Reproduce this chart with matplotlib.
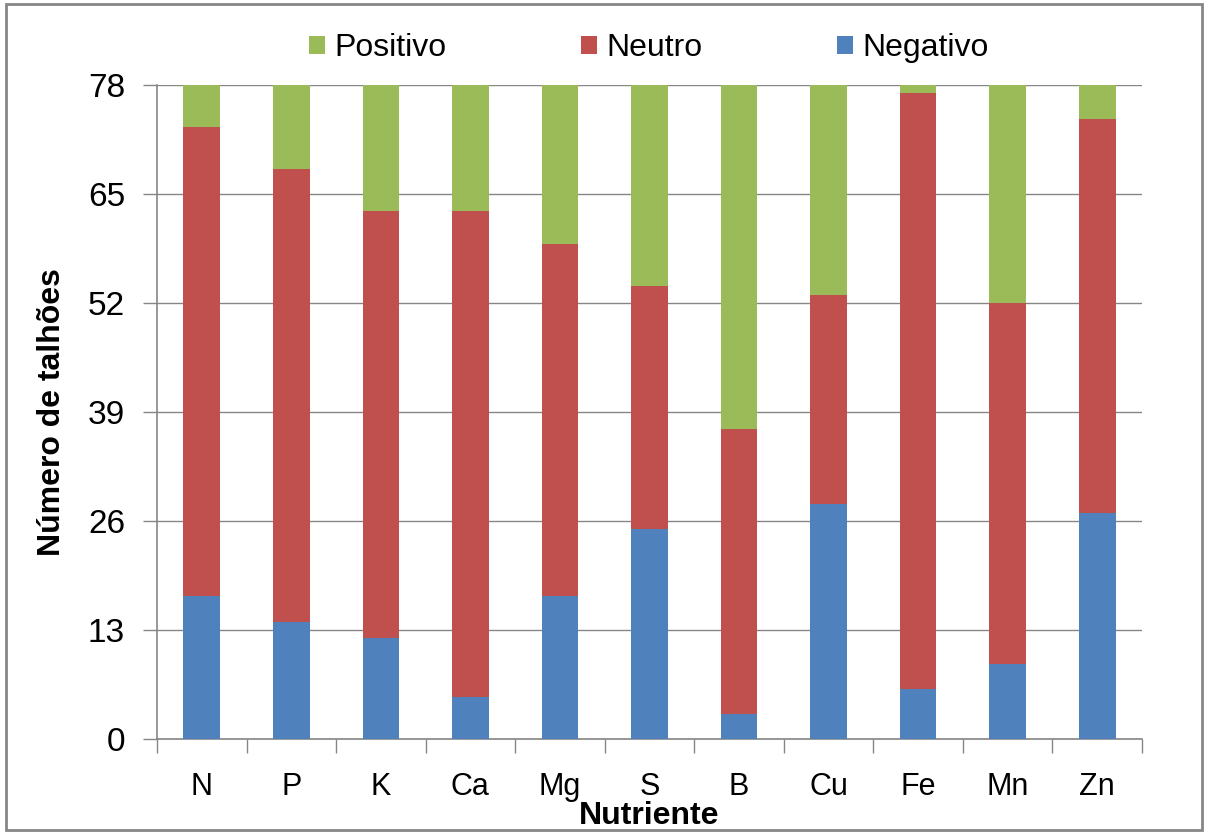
import numpy as np
import matplotlib
matplotlib.use("Agg")
import matplotlib.pyplot as plt
from matplotlib.patches import Rectangle

plt.rcParams['font.family'] = ['Liberation Sans', 'DejaVu Sans']

# dados
nutrientes = ["N", "P", "K", "Ca", "Mg", "S", "B", "Cu", "Fe", "Mn", "Zn"]
negativo = [17, 14, 12, 5, 17, 25, 3, 28, 6, 9, 27]
neutro = [56, 54, 51, 58, 42, 29, 34, 25, 71, 43, 47]
positivo = [5, 10, 15, 15, 19, 24, 41, 25, 1, 26, 4]
yticks = [0, 13, 26, 39, 52, 65, 78]

c_neg = "#4F81BD"
c_neu = "#C0504D"
c_pos = "#9BBB59"
cinza = "#868686"

fig = plt.figure(figsize=(12.08, 8.34), dpi=100)
ax = fig.add_axes([157/1208, 1-739/834, (1142-157)/1208, (739-85)/834])

x = np.arange(len(nutrientes))
neg = np.array(negativo)
neu = np.array(neutro)
pos = np.array(positivo)
w = 0.41
ax.bar(x, neg, w, color=c_neg, label="Negativo", zorder=3)
ax.bar(x, neu, w, bottom=neg, color=c_neu, label="Neutro", zorder=3)
ax.bar(x, pos, w, bottom=neg + neu, color=c_pos, label="Positivo", zorder=3)

ax.set_xlim(-0.5, len(nutrientes) - 0.5)
ax.set_ylim(0, 78)
ax.set_yticks(yticks)
ax.yaxis.grid(True, color=cinza, lw=1, zorder=0)
ax.tick_params(axis='y', length=10, width=1, color=cinza, labelsize=24, pad=13)

# ticks do eixo x entre categorias
ax.set_xticks(np.arange(-0.5, len(nutrientes), 1))
ax.set_xticklabels([])
ax.set_xticks(x, minor=True)
ax.set_xticklabels(nutrientes, minor=True)
ax.tick_params(axis='x', which='major', length=10, width=1, color=cinza)
ax.tick_params(axis='x', which='minor', length=0, labelsize=22, pad=24)

for s in ["top", "right"]:
    ax.spines[s].set_visible(False)
for s in ["left", "bottom"]:
    ax.spines[s].set_color(cinza)
    ax.spines[s].set_linewidth(1.2)

ax.set_ylabel("Número de talhões", fontsize=23, fontweight="bold", labelpad=15)
ax.set_xlabel("Nutriente", fontsize=23, fontweight="bold")
ax.xaxis.set_label_coords(0.5, (739 - 801) / 654)

h, l = ax.get_legend_handles_labels()
fig.legend(h[::-1], l[::-1], loc="center", bbox_to_anchor=(649/1208, 1-48/834), ncol=3,
           frameon=False, fontsize=23, handlelength=0.5, handleheight=0.5,
           handletextpad=0.3, columnspacing=4.2)

# borda da figura
fig.patches.append(Rectangle((6/1208, 4/834), 1 - 12/1208, 1 - 8/834,
                             transform=fig.transFigure, fill=False,
                             edgecolor=cinza, lw=2))

fig.savefig("out.png", dpi=100)
